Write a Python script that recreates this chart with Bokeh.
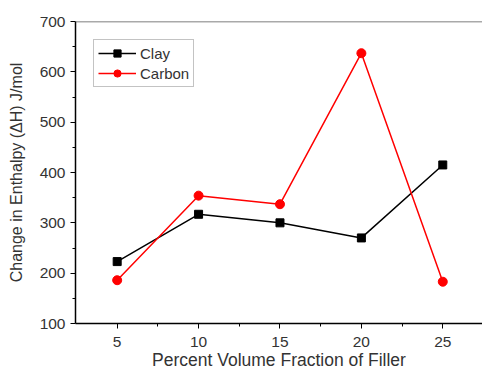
from bokeh.plotting import figure
from bokeh.models import Range1d, FixedTicker, Span, Legend, LegendItem
from bokeh.embed import file_html
from bokeh.resources import INLINE

fraction = [5, 10, 15, 20, 25]
clay = [223, 317, 300, 270, 415]
carbon = [186, 354, 337, 637, 183]
x_ticks = [5, 10, 15, 20, 25]
y_ticks = [100, 200, 300, 400, 500, 600, 700]

FONT = "Liberation Sans"

p = figure(width=482, height=374, output_backend="svg", toolbar_location=None,
           x_range=Range1d(2.44, 27.44), y_range=Range1d(100, 700),
           min_border_left=75, min_border_top=21, min_border_right=0, min_border_bottom=51)
p.outline_line_color = None
p.grid.visible = False
p.background_fill_color = "white"

top = Span(location=700, dimension="width", line_color="#555555", line_width=1.5)
p.add_layout(top)

r1 = p.line(fraction, clay, line_color="black", line_width=1.5)
s1 = p.scatter(fraction, clay, marker="square", size=8, fill_color="black", line_color="black")
r2 = p.line(fraction, carbon, line_color="red", line_width=1.5)
s2 = p.scatter(fraction, carbon, marker="circle", size=9, fill_color="red", line_color="red")

for ax in (p.xaxis[0], p.yaxis[0]):
    ax.axis_line_color = "black"
    ax.axis_line_width = 1.5
    ax.major_tick_line_color = "black"
    ax.minor_tick_line_color = "black"
    ax.major_tick_out = 5
    ax.major_tick_in = 0
    ax.minor_tick_out = 3
    ax.minor_tick_in = 0
    ax.major_label_text_font = FONT
    ax.major_label_text_font_size = "15.5px"
    ax.major_label_text_color = "#333333"
    ax.axis_label_text_font = FONT
    ax.axis_label_text_font_style = "normal"
    ax.axis_label_text_color = "#333333"

p.xaxis.axis_label_text_font_size = "17.5px"
p.yaxis.axis_label_text_font_size = "16px"
p.xaxis.ticker = FixedTicker(ticks=x_ticks, minor_ticks=[7.5, 12.5, 17.5, 22.5])
p.yaxis.ticker = FixedTicker(ticks=y_ticks, minor_ticks=[150, 250, 350, 450, 550, 650])
p.xaxis.axis_label = "Percent Volume Fraction of Filler"
p.yaxis.axis_label = "Change in Enthalpy (ΔH) J/mol"
p.xaxis.major_label_standoff = 8
p.yaxis.major_label_standoff = 5
p.xaxis.axis_label_standoff = 0
p.yaxis.axis_label_standoff = 12

legend = Legend(items=[LegendItem(label="Clay", renderers=[r1, s1]),
                       LegendItem(label="Carbon", renderers=[r2, s2])],
                location="top_left")
legend.margin = 18
legend.padding = 4
legend.spacing = 2
legend.glyph_width = 38
legend.glyph_height = 18
legend.label_height = 18
legend.label_standoff = 4
legend.label_text_font = FONT
legend.label_text_font_size = "15px"
legend.label_text_color = "#333333"
legend.border_line_color = "#888888"
legend.border_line_width = 1
legend.background_fill_color = "white"
legend.background_fill_alpha = 1
p.add_layout(legend)

open("out.html", "w").write(file_html(p, INLINE))
